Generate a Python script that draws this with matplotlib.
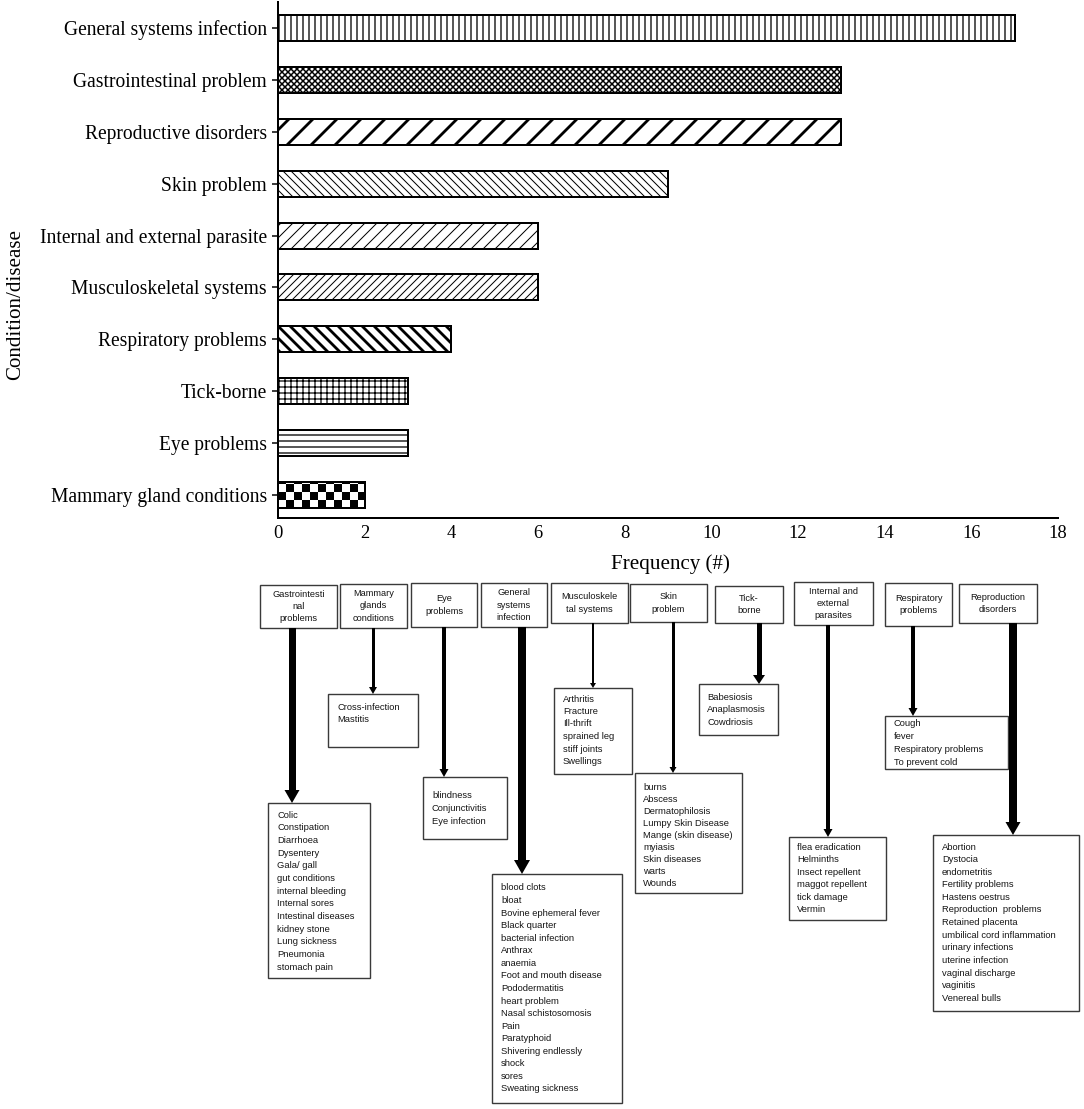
import numpy as np
import matplotlib
matplotlib.use("Agg")
import matplotlib.pyplot as plt
from matplotlib.patches import Rectangle, Polygon

# ---------------- data ----------------
categories = ["Mammary gland conditions", "Eye problems", "Tick-borne",
              "Respiratory problems", "Musculoskeletal systems",
              "Internal and external parasite", "Skin problem",
              "Reproductive disorders", "Gastrointestinal problem",
              "General systems infection"]
frequency = [2, 3, 3, 4, 6, 6, 9, 13, 13, 17]
x_ticks = [0, 2, 4, 6, 8, 10, 12, 14, 16, 18]
x_label = "Frequency (#)"
y_label = "Condition/disease"

group_headers = ["Gastrointesti\nnal\nproblems", "Mammary\nglands\nconditions",
                 "Eye\nproblems", "General\nsystems\ninfection",
                 "Musculoskele\ntal systems", "Skin\nproblem", "Tick-\nborne",
                 "Internal and\nexternal\nparasites", "Respiratory\nproblems",
                 "Reproduction\ndisorders"]
group_items = [
    ["Colic", "Constipation", "Diarrhoea", "Dysentery", "Gala/ gall",
     "gut conditions", "internal bleeding", "Internal sores",
     "Intestinal diseases", "kidney stone", "Lung sickness", "Pneumonia",
     "stomach pain"],
    ["Cross-infection", "Mastitis"],
    ["blindness", "Conjunctivitis", "Eye infection"],
    ["blood clots", "bloat", "Bovine ephemeral fever", "Black quarter",
     "bacterial infection", "Anthrax", "anaemia", "Foot and mouth disease",
     "Pododermatitis", "heart problem", "Nasal schistosomosis", "Pain",
     "Paratyphoid", "Shivering endlessly", "shock", "sores",
     "Sweating sickness"],
    ["Arthritis", "Fracture", "Ill-thrift", "sprained leg", "stiff joints",
     "Swellings"],
    ["burns", "Abscess", "Dermatophilosis", "Lumpy Skin Disease",
     "Mange (skin disease)", "myiasis", "Skin diseases", "warts", "Wounds"],
    ["Babesiosis", "Anaplasmosis", "Cowdriosis"],
    ["flea eradication", "Helminths", "Insect repellent", "maggot repellent",
     "tick damage", "Vermin"],
    ["Cough", "fever", "Respiratory problems", "To prevent cold"],
    ["Abortion", "Dystocia", "endometritis", "Fertility problems",
     "Hastens oestrus", "Reproduction  problems", "Retained placenta",
     "umbilical cord inflammation", "urinary infections", "uterine infection",
     "vaginal discharge", "vaginitis", "Venereal bulls"],
]

# ---------------- styles / layout ----------------
hatches = [None, "--", "++", "\\\\", "///", "//", "\\\\\\", "/", "xxxx", "||"]
hatch_lws = [1.0, 1.3, 1.2, 2.8, 1.0, 1.0, 1.0, 2.8, 1.5, 1.3]

# header boxes (x0, y0, x1, y1) in pixels
header_boxes = [(260, 585, 337, 628), (340, 584, 407, 628), (411, 583, 477, 627),
                (481, 583, 547, 627), (551, 583, 628, 623), (630, 584, 707, 622),
                (715, 586, 783, 623), (794, 582, 873, 625), (885, 583, 952, 626),
                (959, 584, 1037, 623)]
detail_boxes = [(268, 803, 370, 978), (328, 694, 418, 747), (423, 777, 507, 839),
                (492, 874, 622, 1103), (554, 688, 632, 774), (635, 773, 742, 893),
                (699, 684, 778, 735), (789, 837, 886, 920), (885, 716, 1008, 769),
                (933, 835, 1079, 1011)]
text_starts = [(277, 815, 12.7), (337, 707, 12.5), (432, 796, 12.5),
               (501, 888, 12.56), (563, 699, 12.5), (643, 787, 12.0),
               (707, 697, 12.6), (797, 847, 12.6), (894, 724, 12.7),
               (942, 847, 12.6)]
arrow_x = [292, 373, 444, 522, 593, 673, 759, 828, 913, 1013]
arrow_w = [7, 3, 4, 8, 2, 3, 5, 4, 4, 8]
head_w = [15, 8, 9, 16, 6, 7, 12, 9, 9, 15]
head_l = [13, 7, 8, 14, 5, 6, 9, 8, 8, 13]

W, H = 1084, 1109
DPI = 72
fig = plt.figure(figsize=(W / DPI, H / DPI), dpi=DPI)
plt.rcParams['font.family'] = ['Liberation Serif', 'DejaVu Serif']

# ---------------- bar chart ----------------
ax = fig.add_axes([278 / W, 1 - 518 / H, (1058 - 278) / W, (518 - 2) / H])
ypos = np.arange(len(categories))
bars = []
for i, (v, h, hl) in enumerate(zip(frequency, hatches, hatch_lws)):
    with plt.rc_context({'hatch.linewidth': hl}):
        b = ax.barh(ypos[i], v, height=0.5,
                    color='none' if h is None else 'white',
                    edgecolor='black', linewidth=2, hatch=h, zorder=2)[0]
    if hasattr(b, 'set_hatch_linewidth'):
        b.set_hatch_linewidth(hl)
    bars.append(b)

# checkerboard fill for mammary gland bar
mb = bars[0]
x0, y0, bw, bh = mb.get_x(), mb.get_y(), mb.get_width(), mb.get_height()
sq_x, sq_y = 0.185, 0.155
nx = int(np.ceil(bw / sq_x)); ny = int(np.ceil(bh / sq_y))
board = np.add.outer(np.arange(ny), np.arange(nx)) % 2
im = ax.imshow(board, cmap='binary', origin='lower', aspect='auto',
               interpolation='nearest',
               extent=(x0, x0 + nx * sq_x, y0, y0 + ny * sq_y), zorder=1.9)
im.set_clip_path(mb)

ax.set_xlim(0, 18)
ax.set_ylim(-0.443, 9.5)
ax.set_yticks(ypos)
ax.set_yticklabels(categories, fontsize=19.5)
ax.set_xticks(x_ticks)
ax.set_xticklabels([str(t) for t in x_ticks], fontsize=18.5)
ax.tick_params(axis='x', length=0, pad=7)
ax.tick_params(axis='y', length=6, width=1.5, pad=5, direction='out')
for s in ['top', 'right']:
    ax.spines[s].set_visible(False)
for s in ['left', 'bottom']:
    ax.spines[s].set_linewidth(2)
ax.set_xlabel(x_label, fontsize=21, va='center')
ax.set_ylabel(y_label, fontsize=21, va='center')
ax.xaxis.set_label_coords((670 - 278) / (1058 - 278), -(564 - 518) / (518 - 2))
ax.yaxis.set_label_coords(-(278 - 16) / (1058 - 278), 1 - (305 - 2) / (518 - 2))

# ---------------- diagram ----------------
dx = fig.add_axes([0, 0, 1, 1], zorder=-1)
dx.set_xlim(0, W); dx.set_ylim(H, 0); dx.axis('off')
box_ec = '#3a3a3a'
txt_c = '#151515'
sans = ['Liberation Sans', 'DejaVu Sans']

for hdr, (bx0, by0, bx1, by1) in zip(group_headers, header_boxes):
    dx.add_patch(Rectangle((bx0, by0), bx1 - bx0, by1 - by0, fill=False,
                           ec=box_ec, lw=1.4))
    dx.text((bx0 + bx1) / 2, (by0 + by1) / 2, hdr, ha='center', va='center',
            fontsize=9.2, family=sans, color=txt_c, linespacing=1.45)

for k in range(len(group_items)):
    bx0, by0, bx1, by1 = detail_boxes[k]
    dx.add_patch(Rectangle((bx0, by0), bx1 - bx0, by1 - by0, fill=False,
                           ec=box_ec, lw=1.4))
    tx, ty, sp = text_starts[k]
    for j, item in enumerate(group_items[k]):
        dx.text(tx, ty + j * sp, item, ha='left', va='center', fontsize=9.4,
                family=sans, color=txt_c)
    # arrow
    ax_ = arrow_x[k]
    ys = header_boxes[k][3]
    ye = by0
    dx.add_patch(Rectangle((ax_ - arrow_w[k] / 2, ys), arrow_w[k],
                           ye - head_l[k] - ys + 1, color='black', lw=0))
    dx.add_patch(Polygon([(ax_ - head_w[k] / 2, ye - head_l[k]),
                          (ax_ + head_w[k] / 2, ye - head_l[k]),
                          (ax_, ye)], closed=True, color='black', lw=0))

fig.savefig('out.png', dpi=DPI)
